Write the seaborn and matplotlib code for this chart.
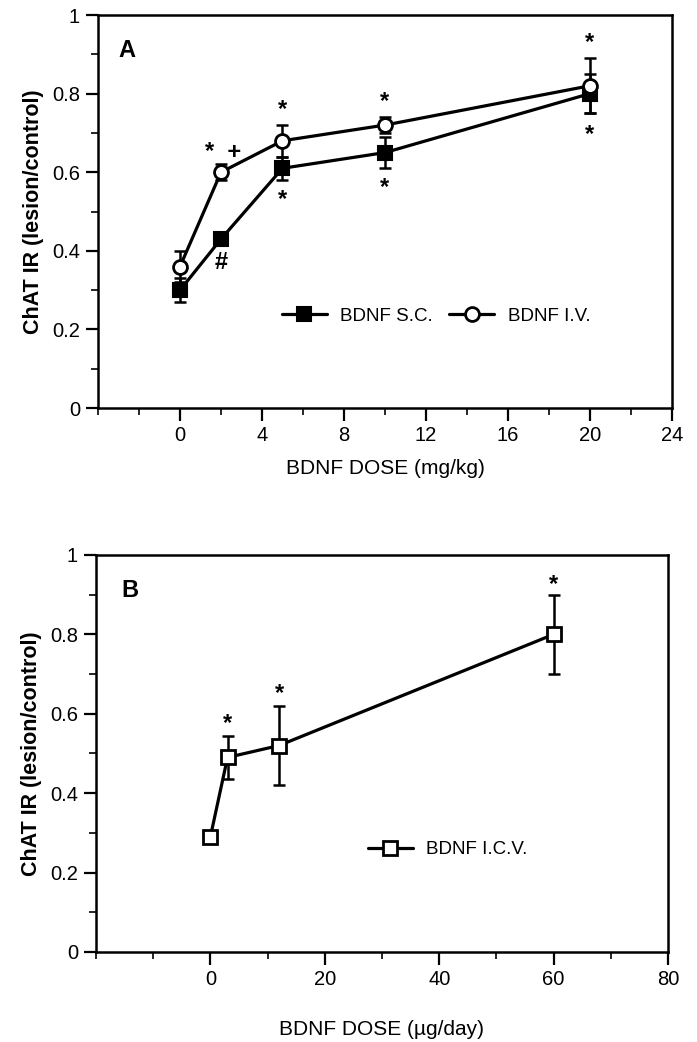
import numpy as np
import pandas as pd
import seaborn as sns
import matplotlib.pyplot as plt
from matplotlib.ticker import MultipleLocator, FixedLocator, FixedFormatter

sns.set_theme(style="ticks")
plt.rcParams['font.family'] = ['Liberation Sans', 'DejaVu Sans']
plt.rcParams['text.color'] = 'black'
plt.rcParams['axes.labelcolor'] = 'black'

# ---------------- Data ----------------
dose_a = [0, 2, 5, 10, 20]                 # mg/kg
sc_mean = [0.30, 0.43, 0.61, 0.65, 0.80]   # BDNF S.C.
sc_err = [0.03, 0.01, 0.03, 0.04, 0.05]
iv_mean = [0.36, 0.60, 0.68, 0.72, 0.82]   # BDNF I.V.
iv_err = [0.04, 0.02, 0.04, 0.02, 0.07]

dose_b = [0, 3, 12, 60]                    # ug/day
icv_mean = [0.29, 0.49, 0.52, 0.80]        # BDNF I.C.V.
icv_err = [0.01, 0.055, 0.10, 0.10]

# significance marks (x, y, text)
marks_a = [(2.1, 0.65, "*  +"), (5, 0.76, "*"), (10, 0.78, "*"), (20, 0.93, "*"),
           (2, 0.37, "#"), (5, 0.53, "*"), (10, 0.56, "*"), (20, 0.695, "*")]
marks_b = [(3, 0.575, "*"), (12, 0.65, "*"), (60, 0.925, "*")]

ytick_vals = [0, 0.2, 0.4, 0.6, 0.8, 1.0]
ytick_labels = ["0", "0.2", "0.4", "0.6", "0.8", "1"]
xticks_a = [0, 4, 8, 12, 16, 20, 24]
xticks_b = [0, 20, 40, 60, 80]

# ---------------- Figure ----------------
fig = plt.figure(figsize=(6.97, 10.42), dpi=100)
axA = fig.add_axes([0.1406, 0.6084, 0.8235, 0.3772])
axB = fig.add_axes([0.1377, 0.0864, 0.8207, 0.381])

lw = 2.3
ms = 10

def style_axes(ax, xlim, xmajor, xminor, xlabel):
    ax.set_xlim(*xlim)
    ax.set_ylim(0, 1)
    ax.xaxis.set_major_locator(FixedLocator(xmajor))
    ax.xaxis.set_minor_locator(MultipleLocator(xminor))
    ax.yaxis.set_major_locator(FixedLocator(ytick_vals))
    ax.yaxis.set_major_formatter(FixedFormatter(ytick_labels))
    ax.yaxis.set_minor_locator(MultipleLocator(0.1))
    ax.tick_params(which='major', direction='out', length=9, width=1.6,
                   labelsize=14.5, colors='black', pad=4)
    ax.tick_params(which='minor', direction='out', length=5, width=1.4)
    ax.tick_params(top=False, right=False)
    for s in ax.spines.values():
        s.set_visible(True)
        s.set_linewidth(1.8)
        s.set_color('black')
    ax.set_ylabel("ChAT IR (lesion/control)", fontsize=15.5, fontweight='bold', labelpad=6)
    ax.set_xlabel(xlabel, fontsize=15, labelpad=10)
    ax.grid(False)

# ---- Panel A ----
axA.errorbar(dose_a, sc_mean, yerr=sc_err, fmt='none', ecolor='black',
             elinewidth=1.8, capsize=4.5, capthick=1.8, zorder=2)
axA.errorbar(dose_a, iv_mean, yerr=iv_err, fmt='none', ecolor='black',
             elinewidth=1.8, capsize=4.5, capthick=1.8, zorder=2)
sns.lineplot(x=dose_a, y=sc_mean, ax=axA, color='black', lw=lw, marker='s',
             markersize=ms, markerfacecolor='black', markeredgecolor='black',
             markeredgewidth=1.5, label='BDNF S.C.', zorder=3)
sns.lineplot(x=dose_a, y=iv_mean, ax=axA, color='black', lw=lw, marker='o',
             markersize=ms, markerfacecolor='white', markeredgecolor='black',
             markeredgewidth=2.0, label='BDNF I.V.', zorder=4)
for x, y, t in marks_a:
    axA.text(x, y, t, ha='center', va='center', fontsize=17, fontweight='bold')
axA.text(-2.6, 0.91, "A", ha='center', va='center', fontsize=17, fontweight='bold')
style_axes(axA, (-4, 24), xticks_a, 2, "BDNF DOSE (mg/kg)")
axA.legend(loc='center left', bbox_to_anchor=(0.32, 0.234), ncol=2, frameon=False,
           fontsize=13.5, handlelength=2.4, handletextpad=0.7, columnspacing=0.9,
           borderpad=0, borderaxespad=0)

# ---- Panel B ----
axB.errorbar(dose_b, icv_mean, yerr=icv_err, fmt='none', ecolor='black',
             elinewidth=1.8, capsize=4.5, capthick=1.8, zorder=2)
sns.lineplot(x=dose_b, y=icv_mean, ax=axB, color='black', lw=lw, marker='s',
             markersize=ms, markerfacecolor='white', markeredgecolor='black',
             markeredgewidth=2.0, label='BDNF I.C.V.', zorder=3)
for x, y, t in marks_b:
    axB.text(x, y, t, ha='center', va='center', fontsize=17, fontweight='bold')
axB.text(-14, 0.91, "B", ha='center', va='center', fontsize=17, fontweight='bold')
style_axes(axB, (-20, 80), xticks_b, 10, "BDNF DOSE (\u00b5g/day)")
axB.xaxis.labelpad = 22
axB.legend(loc='center left', bbox_to_anchor=(0.475, 0.258), frameon=False,
           fontsize=13.5, handlelength=2.4, handletextpad=0.7,
           borderpad=0, borderaxespad=0)

fig.savefig("out.png", dpi=100)
